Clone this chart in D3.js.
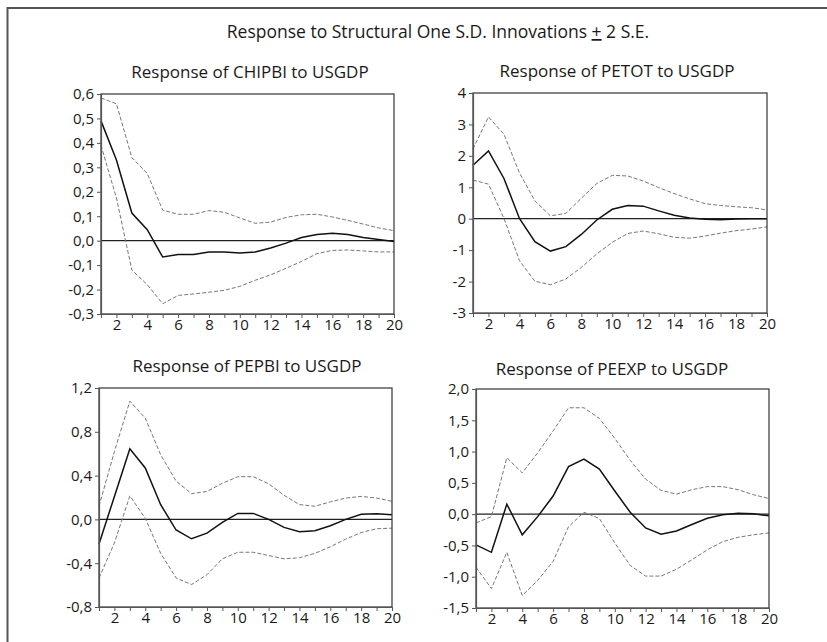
<!DOCTYPE html>
<html>
<head>
<meta charset="utf-8">
<script src="https://cdn.jsdelivr.net/npm/d3@7"></script>
<style>
  body { margin: 0; background: #fff; }
  svg { display: block; }
  text { font-family: "Open Sans", sans-serif; fill: #1a1a1a; }
</style>
</head>
<body>
<script>
// horizon (periods after the shock)
const periods = [1, 2, 3, 4, 5, 6, 7, 8, 9, 10, 11, 12, 13, 14, 15, 16, 17, 18, 19, 20];

const mainTitle = "Response to Structural One S.D. Innovations ";

// Response of CHIPBI to USGDP
const chipbiResp  = [0.49, 0.33, 0.113, 0.045, -0.067, -0.057, -0.057, -0.046, -0.046, -0.05, -0.046, -0.03, -0.01, 0.013, 0.025, 0.03, 0.025, 0.013, 0.005, -0.003];
const chipbiUpper = [0.584, 0.56, 0.34, 0.275, 0.125, 0.108, 0.108, 0.123, 0.116, 0.093, 0.071, 0.076, 0.095, 0.106, 0.108, 0.097, 0.083, 0.068, 0.052, 0.041];
const chipbiLower = [0.39, 0.175, -0.12, -0.18, -0.258, -0.224, -0.218, -0.211, -0.203, -0.187, -0.162, -0.14, -0.113, -0.085, -0.053, -0.04, -0.038, -0.042, -0.046, -0.046];
const chipbiTicks = [-0.3, -0.2, -0.1, 0.0, 0.1, 0.2, 0.3, 0.4, 0.5, 0.6];

// Response of PETOT to USGDP
const petotResp  = [1.70, 2.16, 1.28, 0.01, -0.73, -1.03, -0.89, -0.50, -0.04, 0.30, 0.42, 0.40, 0.25, 0.11, 0.02, -0.02, -0.03, -0.01, 0.0, 0.0];
const petotUpper = [2.22, 3.24, 2.69, 1.46, 0.57, 0.09, 0.17, 0.65, 1.12, 1.38, 1.36, 1.20, 0.99, 0.80, 0.63, 0.48, 0.42, 0.38, 0.35, 0.28];
const petotLower = [1.23, 1.10, 0.01, -1.33, -1.99, -2.10, -1.92, -1.55, -1.12, -0.75, -0.47, -0.39, -0.48, -0.59, -0.62, -0.55, -0.46, -0.38, -0.33, -0.26];
const petotTicks = [-3, -2, -1, 0, 1, 2, 3, 4];

// Response of PEPBI to USGDP
const pepbiResp  = [-0.225, 0.21, 0.645, 0.47, 0.134, -0.097, -0.177, -0.125, -0.027, 0.055, 0.055, 0.0, -0.073, -0.113, -0.103, -0.058, 0.0, 0.046, 0.052, 0.043];
const pepbiUpper = [0.12, 0.62, 1.08, 0.925, 0.59, 0.35, 0.235, 0.255, 0.33, 0.39, 0.39, 0.325, 0.22, 0.135, 0.12, 0.16, 0.195, 0.21, 0.195, 0.165];
const pepbiLower = [-0.535, -0.215, 0.215, 0.01, -0.31, -0.535, -0.595, -0.505, -0.36, -0.3, -0.3, -0.33, -0.36, -0.35, -0.31, -0.25, -0.18, -0.12, -0.085, -0.08];
const pepbiTicks = [-0.8, -0.4, 0.0, 0.4, 0.8, 1.2];

// Response of PEEXP to USGDP
const peexpResp  = [-0.49, -0.61, 0.16, -0.33, -0.04, 0.29, 0.76, 0.88, 0.72, 0.37, 0.03, -0.22, -0.32, -0.27, -0.165, -0.065, -0.01, 0.015, 0.005, -0.027];
const peexpUpper = [-0.14, -0.04, 0.90, 0.66, 0.98, 1.33, 1.70, 1.70, 1.53, 1.21, 0.86, 0.56, 0.38, 0.32, 0.39, 0.44, 0.44, 0.39, 0.31, 0.25];
const peexpLower = [-0.85, -1.19, -0.61, -1.30, -1.06, -0.755, -0.20, 0.03, -0.07, -0.46, -0.82, -0.99, -0.99, -0.88, -0.73, -0.57, -0.44, -0.37, -0.33, -0.30];
const peexpTicks = [-1.5, -1.0, -0.5, 0.0, 0.5, 1.0, 1.5, 2.0];

const w = 827;
const h = 642;

const panels = [
  { title: "Response of CHIPBI to USGDP", resp: chipbiResp, upper: chipbiUpper, lower: chipbiLower,
    ticks: chipbiTicks, fmt: ".1f", box: [101, 94, 394, 314], titleX: 250, titleY: 78 },
  { title: "Response of PETOT to USGDP", resp: petotResp, upper: petotUpper, lower: petotLower,
    ticks: petotTicks, fmt: "d", box: [473, 93, 767, 313], titleX: 617, titleY: 77 },
  { title: "Response of PEPBI to USGDP", resp: pepbiResp, upper: pepbiUpper, lower: pepbiLower,
    ticks: pepbiTicks, fmt: ".1f", box: [99, 388, 392, 607], titleX: 247, titleY: 372 },
  { title: "Response of PEEXP to USGDP", resp: peexpResp, upper: peexpUpper, lower: peexpLower,
    ticks: peexpTicks, fmt: ".1f", box: [476, 389, 769, 608], titleX: 612, titleY: 375 }
];

const svg = d3.select("body")
              .append("svg")
              .attr("width", w)
              .attr("height", h);

// outer frame, runs off the right and bottom edges
svg.append("rect")
   .attr("x", 7.5)
   .attr("y", 8)
   .attr("width", 1000)
   .attr("height", 1000)
   .attr("fill", "none")
   .attr("stroke", "#555")
   .attr("stroke-width", 2);

const title = svg.append("text")
   .attr("x", 438)
   .attr("y", 38)
   .attr("text-anchor", "middle")
   .style("font-size", "17.5px");
title.append("tspan").text(mainTitle);
title.append("tspan").style("text-decoration", "underline").text("+");
title.append("tspan").text(" 2 S.E.");

panels.forEach(drawPanel);

function drawPanel(p) {
  const [x0, y0, x1, y1] = p.box;

  const xScale = d3.scaleLinear()
                   .domain([1, 20])
                   .range([x0, x1]);

  const yScale = d3.scaleLinear()
                   .domain([d3.min(p.ticks), d3.max(p.ticks)])
                   .range([y1, y0]);

  const numFmt = d3.format(p.fmt);
  const yFmt = (d) => numFmt(d).replace("−", "-").replace(".", ",");

  svg.append("text")
     .attr("x", p.titleX)
     .attr("y", p.titleY)
     .attr("text-anchor", "middle")
     .style("font-size", "17px")
     .text(p.title);

  // zero line
  svg.append("line")
     .attr("x1", x0)
     .attr("x2", x1)
     .attr("y1", yScale(0))
     .attr("y2", yScale(0))
     .attr("stroke", "#222")
     .attr("stroke-width", 1.2);

  const line = d3.line()
                 .x((d, i) => xScale(periods[i]))
                 .y((d) => yScale(d));

  [p.upper, p.lower].forEach((band) => {
    svg.append("path")
       .attr("d", line(band))
       .attr("fill", "none")
       .attr("stroke", "#777")
       .attr("stroke-width", 1)
       .attr("stroke-dasharray", "4,2");
  });

  svg.append("path")
     .attr("d", line(p.resp))
     .attr("fill", "none")
     .attr("stroke", "#111")
     .attr("stroke-width", 1.5);

  // plot box
  svg.append("rect")
     .attr("x", x0)
     .attr("y", y0)
     .attr("width", x1 - x0)
     .attr("height", y1 - y0)
     .attr("fill", "none")
     .attr("stroke", "#333")
     .attr("stroke-width", 1.2);

  const xAxis = d3.axisBottom(xScale)
                  .tickValues(periods)
                  .tickSize(4)
                  .tickSizeOuter(0)
                  .tickPadding(1)
                  .tickFormat((d) => d % 2 === 0 ? d : "");
  const gx = svg.append("g")
      .attr("transform", "translate(0," + y1 + ")")
      .call(xAxis);

  const yAxis = d3.axisLeft(yScale)
                  .tickValues(p.ticks)
                  .tickSize(4)
                  .tickSizeOuter(0)
                  .tickPadding(3)
                  .tickFormat(yFmt);
  const gy = svg.append("g")
      .attr("transform", "translate(" + x0 + ", 0)")
      .call(yAxis);

  [gx, gy].forEach((g) => {
    g.attr("font-size", 15).attr("font-family", "'Open Sans', sans-serif");
    g.select(".domain").attr("stroke", "#555").attr("stroke-width", 1.2);
    g.selectAll(".tick line").attr("stroke", "#555");
    g.selectAll(".tick text").attr("fill", "#000");
  });
}
</script>
</body>
</html>
